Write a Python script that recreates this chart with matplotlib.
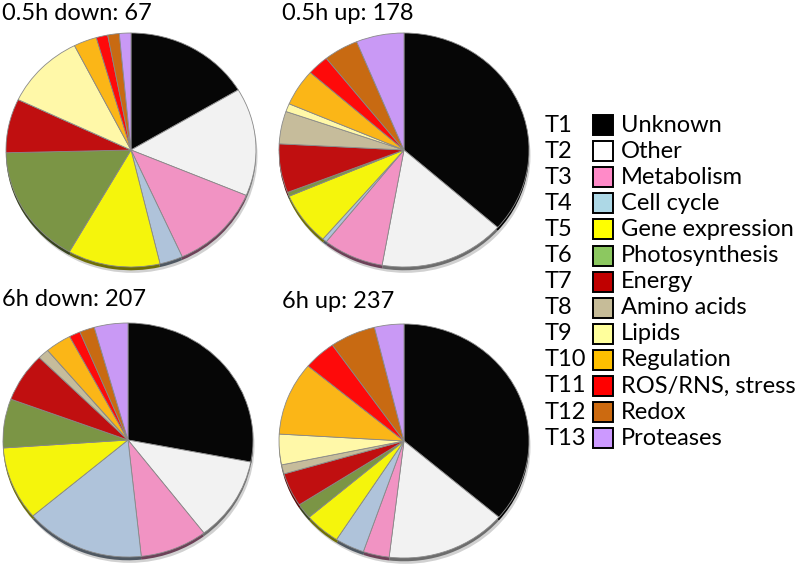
import matplotlib
matplotlib.use("Agg")
import matplotlib.pyplot as plt
from matplotlib.colors import to_rgb
from matplotlib.patches import Rectangle

plt.rcParams["font.family"] = ["Lato", "DejaVu Sans"]

W, H = 796, 573

CODES = ["T1", "T2", "T3", "T4", "T5", "T6", "T7", "T8", "T9", "T10", "T11", "T12", "T13"]
CATEGORIES = ["Unknown", "Other", "Metabolism", "Cell cycle", "Gene expression",
              "Photosynthesis", "Energy", "Amino acids", "Lipids", "Regulation",
              "ROS/RNS, stress", "Redox", "Proteases"]

PIE_COLORS = ["#060606", "#f2f2f2", "#f193c3", "#afc3da", "#f5f50c", "#7b9545",
              "#c00f10", "#c6bc9b", "#fff8a8", "#fbb617", "#fe0a0a", "#c86a12", "#c999f5"]
LEGEND_COLORS = ["#000000", "#ffffff", "#ff8ac8", "#add8e6", "#ffff00", "#8cc860",
                 "#c00000", "#c6bc98", "#ffff9c", "#ffc000", "#ff0000", "#cc6a10", "#cc99ff"]

TITLES = ["0.5h down: 67", "0.5h up: 178", "6h down: 207", "6h up: 237"]
DOWN_05H = [11, 10, 8, 2, 8, 11, 5, 0, 7, 2, 1, 1, 1]
UP_05H = [65, 29, 14, 1, 13, 1, 12, 8, 2, 9, 5, 8, 11]
DOWN_6H = [58, 24, 18, 32, 21, 14, 14, 3, 0, 7, 3, 4, 9]
UP_6H = [86, 37, 8, 9, 11, 5, 11, 3, 10, 24, 10, 14, 9]
SERIES = [DOWN_05H, UP_05H, DOWN_6H, UP_6H]

# pixel layout: pie centres, radii, title anchors
CENTERS = [(131, 150), (404, 150), (128, 440), (404, 441)]
RX, RY = 125, 117
TITLE_POS = [(2, 14), (282, 14), (2, 300), (282, 301)]


def darker(c, f=0.45):
    r, g, b = to_rgb(c)
    return (r * f, g * f, b * f)


fig = plt.figure(figsize=(W / 100, H / 100), dpi=100)

for values, (cx, cy), title, (tx, ty) in zip(SERIES, CENTERS, TITLES, TITLE_POS):
    pad = 1.06
    ax = fig.add_axes([(cx - RX * pad) / W, (H - cy - RY * pad) / H,
                       2 * RX * pad / W, 2 * RY * pad / H])
    # soft shadow + darker side to mimic the 3D look
    ax.pie([1], colors=["#9a9a9a"], radius=1.0, center=(0.012, -0.05),
           wedgeprops=dict(linewidth=0, alpha=0.45))
    ax.pie(values, colors=[darker(c) for c in PIE_COLORS], startangle=90,
           counterclock=False, radius=1.0, center=(0, -0.028),
           wedgeprops=dict(linewidth=0))
    ax.pie(values, colors=PIE_COLORS, startangle=90, counterclock=False,
           radius=1.0, wedgeprops=dict(edgecolor="#8a8a8a", linewidth=0.6))
    ax.set_aspect("auto")
    ax.set_xlim(-pad, pad)
    ax.set_ylim(-pad, pad)
    ax.axis("off")
    fig.text(tx / W, 1 - ty / H, title, fontsize=17, ha="left", va="center")

# legend
lax = fig.add_axes([0, 0, 1, 1])
lax.set_xlim(0, W)
lax.set_ylim(H, 0)
lax.axis("off")
row0, step = 125, 26.1
for i, (code, name, col) in enumerate(zip(CODES, CATEGORIES, LEGEND_COLORS)):
    y = row0 + i * step
    lax.text(545, y, code, fontsize=17, ha="left", va="center")
    lax.add_patch(Rectangle((593, y - 10), 20, 20, facecolor=col,
                            edgecolor="black", linewidth=1.4))
    lax.text(621, y, name, fontsize=17, ha="left", va="center")

fig.savefig("out.png", dpi=100)
